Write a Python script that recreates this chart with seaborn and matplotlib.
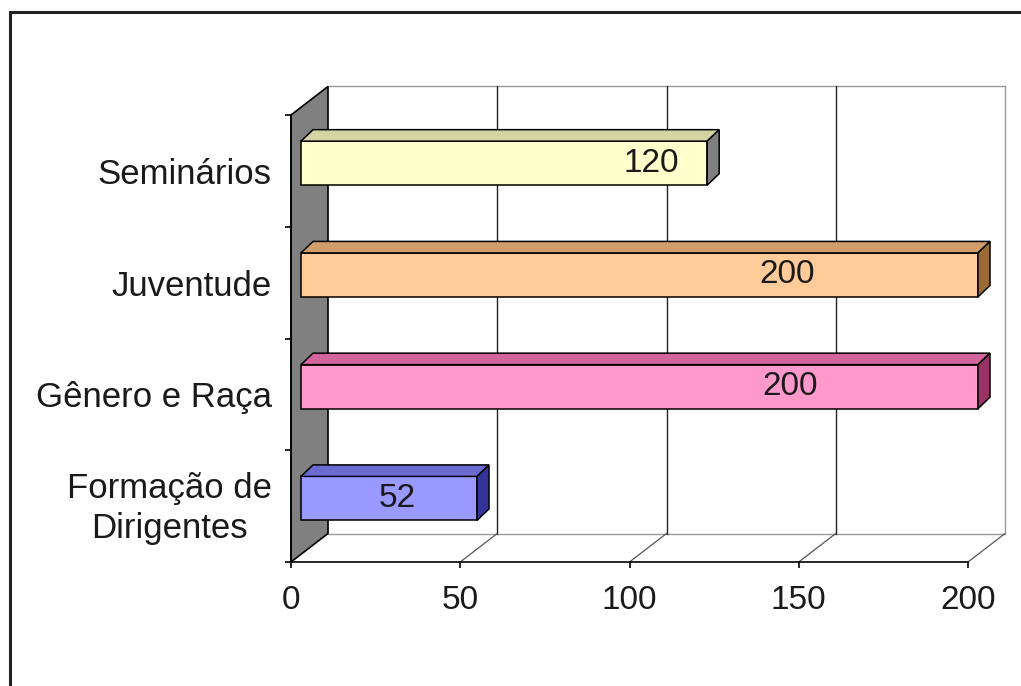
import matplotlib
matplotlib.use("Agg")
import matplotlib.pyplot as plt
import matplotlib.transforms as mtransforms
from matplotlib.patches import Polygon, Rectangle
from matplotlib.lines import Line2D
import seaborn as sns
import pandas as pd

# --- data -------------------------------------------------------------
categories = ["Seminários", "Juventude", "Gênero e Raça", "Formação de\nDirigentes"]
values = [120, 200, 200, 52]
xticks = [0, 50, 100, 150, 200]

# --- styling ----------------------------------------------------------
face_colors = ["#FFFFCC", "#FFCC99", "#FF99CC", "#9999FF"]
top_colors = ["#D3D3A4", "#D19E6B", "#D2659C", "#6A6AD0"]
side_colors = ["#7F7F7F", "#9C6A35", "#993366", "#333399"]
label_anchor = [106.5, 146.5, 147.5, 31.5]   # where each value label sits on the front plane

sns.set_style("white")
plt.rcParams["font.family"] = ["Liberation Sans", "DejaVu Sans"]
FS = 24
FS_CAT = 25

W, H = 1021, 686
fig = plt.figure(figsize=(W / 100, H / 100), dpi=100)
fig.patch.set_facecolor("white")

# front plane of the 3-D box
left_px, right_px, top_px, bottom_px = 291, 968, 115, 562
ax = fig.add_axes([left_px / W, 1 - bottom_px / H,
                   (right_px - left_px) / W, (bottom_px - top_px) / H])

df = pd.DataFrame({"categoria": categories, "valor": values})
BAR_W = 0.394
sns.barplot(data=df, x="valor", y="categoria", hue="categoria", orient="h",
            palette=face_colors, saturation=1, legend=False, width=BAR_W,
            edgecolor="black", linewidth=1.1, ax=ax, zorder=4)

ax.set_xlim(0, 200)
ax.set_ylim(3.5, -0.5)
ax.set_xlabel("")
ax.set_ylabel("")

# pixel -> data scale
SX = (right_px - left_px) / 200
SY = (bottom_px - top_px) / 4
# depth of the box in data units
DX = 37 / SX
DY = 28.5 / SY
# bar front offset and bar depth
D1 = 0.27
BDX = 12 / SX
BDY = 11.5 / SY

# back wall outline, gridlines and floor
back_y_top = -0.5 - DY
back_y_bot = 3.5 - DY
wall = Polygon([(0, -0.5), (DX, back_y_top), (DX, back_y_bot), (0, 3.5)],
               closed=True, facecolor="#808080", edgecolor="black",
               linewidth=1.2, clip_on=False, zorder=1)
ax.add_patch(wall)
ax.add_line(Line2D([DX, 200 + DX], [back_y_top, back_y_top], color="#9a9a9a",
                   lw=1.0, clip_on=False, zorder=0.5))
ax.add_line(Line2D([DX, 200 + DX], [back_y_bot, back_y_bot], color="#9a9a9a",
                   lw=1.0, clip_on=False, zorder=0.5))
for v in xticks[1:]:
    ax.add_line(Line2D([v + DX, v + DX], [back_y_top, back_y_bot],
                       color="#222222" if v < 200 else "#9a9a9a", lw=1.0,
                       clip_on=False, zorder=0.6))
for v in xticks[1:]:
    ax.add_line(Line2D([v, v + DX], [3.5, back_y_bot], color="#555555",
                       lw=0.9, clip_on=False, zorder=0.6))

# shift the bar faces into the box depth and add top/side faces
for p in ax.patches[:]:
    if not isinstance(p, Rectangle):
        continue
    p.set_x(p.get_x() + D1 * DX)
    p.set_y(p.get_y() - D1 * DY)
    p.set_clip_on(False)
for i, v in enumerate(values):
    x0 = D1 * DX
    x1 = v + D1 * DX
    yt = i - BAR_W / 2 - D1 * DY
    yb = i + BAR_W / 2 - D1 * DY
    top = Polygon([(x0, yt), (x0 + BDX, yt - BDY), (x1 + BDX, yt - BDY), (x1, yt)],
                  closed=True, facecolor=top_colors[i], edgecolor="black",
                  linewidth=1.1, clip_on=False, zorder=4)
    side = Polygon([(x1, yt), (x1 + BDX, yt - BDY), (x1 + BDX, yb - BDY), (x1, yb)],
                   closed=True, facecolor=side_colors[i], edgecolor="black",
                   linewidth=1.1, clip_on=False, zorder=4)
    ax.add_patch(top)
    ax.add_patch(side)
    ax.text(label_anchor[i], i - D1 * DY, f"{v}", ha="center",
            va="center", fontsize=FS, color="#1a1a1a", zorder=6)

# axes, ticks and tick labels
for s in ["top", "right"]:
    ax.spines[s].set_visible(False)
ax.spines["left"].set_color("black")
ax.spines["left"].set_linewidth(1.2)
ax.spines["bottom"].set_color("black")
ax.spines["bottom"].set_linewidth(1.2)
ax.spines["left"].set_zorder(2)

ax.set_xticks(xticks)
ax.set_xticklabels([str(t) for t in xticks])
ax.tick_params(axis="x", direction="out", length=4.5, width=1.2, color="black",
               labelsize=FS, labelcolor="#1a1a1a", pad=12, bottom=True)
ax.set_yticks(range(len(categories)))
ax.set_yticks([-0.5, 0.5, 1.5, 2.5, 3.5], minor=True)
ax.tick_params(axis="y", which="major", length=0, labelsize=FS_CAT,
               labelcolor="#1a1a1a", pad=14)
ax.tick_params(axis="y", which="minor", direction="out", length=4.5,
               width=1.2, color="black", left=True)
ax.set_yticklabels(categories, multialignment="center", linespacing=1.28)
# lift the two-line label slightly
lift = mtransforms.ScaledTranslation(0, 5 / 100, fig.dpi_scale_trans)
last = ax.get_yticklabels()[-1]
last.set_transform(last.get_transform() + lift)
ax.grid(False)
ax.set_facecolor("none")

# outer chart frame
frame = Rectangle((10 / W, -0.2), 1.5, 1 - 11.5 / H + 0.2,
                  transform=fig.transFigure, fill=False,
                  edgecolor="#222222", linewidth=2.2)
fig.patches.append(frame)

fig.savefig("out.png", dpi=100)
